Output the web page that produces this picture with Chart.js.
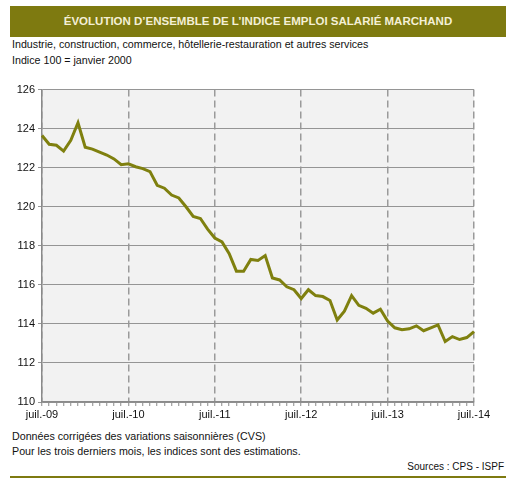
<!DOCTYPE html>
<html lang="fr">
<head>
<meta charset="utf-8">
<script src="https://cdn.jsdelivr.net/npm/chart.js@4/dist/chart.umd.min.js"></script>
<style>
    body { margin: 0; background: #fff; font-family: "Liberation Sans", Arial, sans-serif; }
    #page { position: relative; width: 516px; height: 487px; }
    .titre {
        position: absolute; left: 10px; top: 6px; width: 496px; height: 31px;
        background: #7e7a10; color: #f4efd6; font-weight: bold; font-size: 11.5px;
        line-height: 31px; text-align: center;
    }
    .txt { position: absolute; left: 12px; font-size: 10.7px; color: #111; white-space: nowrap; }
    .src { position: absolute; right: 12px; top: 461px; font-size: 10px; color: #111; }
    .filet { position: absolute; left: 10px; top: 476px; width: 496px; height: 2px; background: #7e7a10; }
    .graph { position: absolute; left: 0; top: 80px; width: 516px; height: 345px; }
</style>
</head>
<body>
<div id="page">
    <div class="titre">ÉVOLUTION D’ENSEMBLE DE L’INDICE EMPLOI SALARIÉ MARCHAND</div>
    <div class="txt" style="top:38px">Industrie, construction, commerce, hôtellerie-restauration et autres services</div>
    <div class="txt" style="top:54px">Indice 100 = janvier 2000</div>
    <div class="graph"><canvas id="mainChart" width="516" height="345"></canvas></div>
    <div class="txt" style="top:430px">Données corrigées des variations saisonnières (CVS)</div>
    <div class="txt" style="top:445px">Pour les trois derniers mois, les indices sont des estimations.</div>
    <div class="src">Sources : CPS - ISPF</div>
    <div class="filet"></div>
</div>
<script>
// mois de juillet 2009 a juillet 2014
const mois = [
    'juil.-09', 'août-09', 'sept.-09', 'oct.-09', 'nov.-09', 'déc.-09',
    'janv.-10', 'févr.-10', 'mars-10', 'avr.-10', 'mai-10', 'juin-10',
    'juil.-10', 'août-10', 'sept.-10', 'oct.-10', 'nov.-10', 'déc.-10',
    'janv.-11', 'févr.-11', 'mars-11', 'avr.-11', 'mai-11', 'juin-11',
    'juil.-11', 'août-11', 'sept.-11', 'oct.-11', 'nov.-11', 'déc.-11',
    'janv.-12', 'févr.-12', 'mars-12', 'avr.-12', 'mai-12', 'juin-12',
    'juil.-12', 'août-12', 'sept.-12', 'oct.-12', 'nov.-12', 'déc.-12',
    'janv.-13', 'févr.-13', 'mars-13', 'avr.-13', 'mai-13', 'juin-13',
    'juil.-13', 'août-13', 'sept.-13', 'oct.-13', 'nov.-13', 'déc.-13',
    'janv.-14', 'févr.-14', 'mars-14', 'avr.-14', 'mai-14', 'juin-14',
    'juil.-14'
];

const indice = [
    123.65, 123.2, 123.15, 122.85, 123.4, 124.3,
    123.05, 122.95, 122.8, 122.65, 122.45, 122.15,
    122.2, 122.05, 121.95, 121.8, 121.1, 120.95,
    120.6, 120.45, 120.0, 119.5, 119.4, 118.85,
    118.4, 118.2, 117.6, 116.7, 116.7, 117.3,
    117.25, 117.5, 116.35, 116.25, 115.9, 115.75,
    115.3, 115.75, 115.45, 115.4, 115.2, 114.2,
    114.65, 115.45, 114.95, 114.8, 114.55, 114.75,
    114.15, 113.8, 113.7, 113.75, 113.9, 113.65,
    113.8, 113.95, 113.1, 113.35, 113.2, 113.3,
    113.6
];

const yMin = 110, yMax = 126, yPas = 2;
const olive = '#7f800f';

const estJuillet = (i) => mois[i] && mois[i].startsWith('juil.');

// fond gris de la zone de trace
const fondZone = {
    id: 'fondZone',
    beforeDraw(chart) {
        const a = chart.chartArea;
        chart.ctx.save();
        chart.ctx.fillStyle = '#f2f2f2';
        chart.ctx.fillRect(a.left, a.top, a.right - a.left, a.bottom - a.top);
        chart.ctx.restore();
    }
};

new Chart(document.getElementById('mainChart'), {
    type: 'line',
    data: {
        labels: mois,
        datasets: [{
            data: indice,
            borderColor: olive,
            borderWidth: 3,
            pointRadius: 0,
            fill: false,
            tension: 0
        }]
    },
    options: {
        responsive: false,
        maintainAspectRatio: false,
        animation: false,
        layout: { padding: { top: 7, right: 42, left: 0, bottom: 0 } },
        plugins: { legend: { display: false }, tooltip: { enabled: false } },
        scales: {
            x: {
                afterFit: (s) => { s.height = 23; },
                border: { color: '#8a8a8a', width: 1.5, dash: [7, 4] },
                grid: {
                    color: (c) => estJuillet(c.index) ? '#9a9a9a' : 'rgba(0,0,0,0)',
                    lineWidth: 1.5,
                    tickColor: '#8a8a8a',
                    tickWidth: 1,
                    tickLength: 4
                },
                ticks: {
                    autoSkip: false,
                    maxRotation: 0,
                    padding: 2,
                    color: '#111',
                    font: { family: 'Liberation Sans', size: 11 },
                    callback: (v, i) => estJuillet(i) ? mois[i] : ''
                }
            },
            y: {
                min: yMin,
                max: yMax,
                afterFit: (s) => { s.width = 42; },
                border: { color: '#8a8a8a', width: 1.5 },
                grid: { color: '#959595', lineWidth: 1, tickLength: 4 },
                ticks: {
                    stepSize: yPas,
                    autoSkip: false,
                    padding: 3,
                    color: '#111',
                    font: { family: 'Liberation Sans', size: 11 }
                }
            }
        }
    },
    plugins: [fondZone]
});
</script>
</body>
</html>
